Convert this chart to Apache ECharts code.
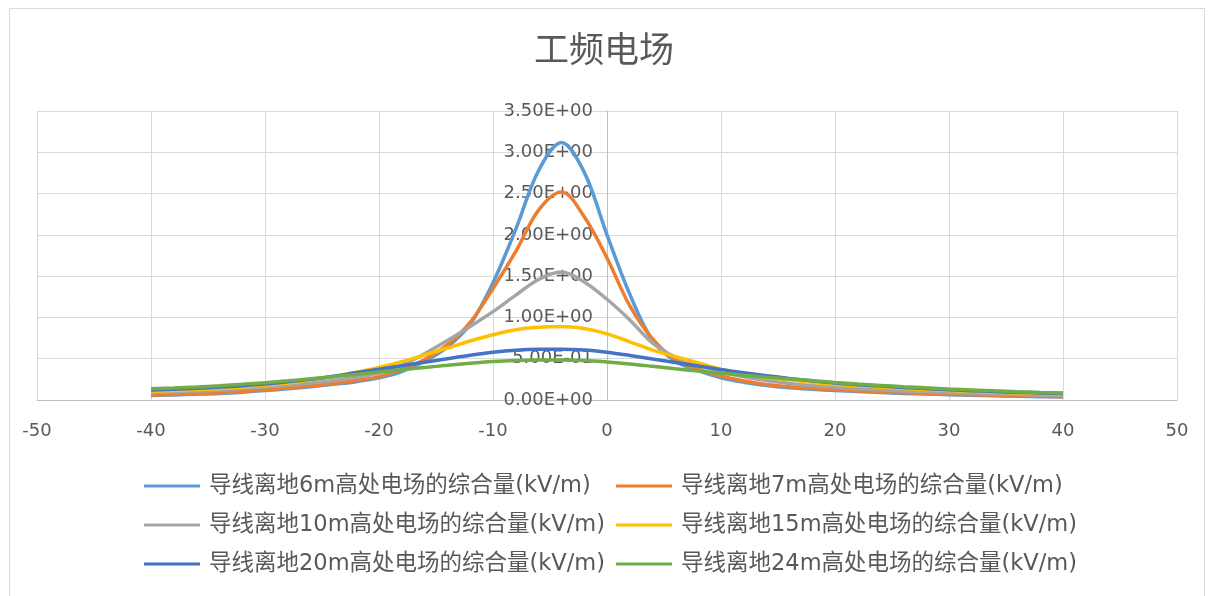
<!DOCTYPE html>
<html>
<head>
<meta charset="utf-8">
<script src="https://cdn.jsdelivr.net/npm/echarts@6/dist/echarts.min.js"></script>
<style>
  html, body { margin: 0; padding: 0; background: #ffffff; }
  #chart { width: 1208px; height: 596px; }
</style>
</head>
<body>
<div id="chart"></div>
<script>
// Horizontal distance from the line centre (m), every 2 m
const distances = [-40, -38, -36, -34, -32, -30, -28, -26, -24, -22, -20, -18, -16, -14, -12, -10, -8, -6, -4, -2,
                   0, 2, 4, 6, 8, 10, 12, 14, 16, 18, 20, 22, 24, 26, 28, 30, 32, 34, 36, 38, 40];

// Combined power-frequency field strength (kV/m) for each conductor height
const field6m  = [0.055, 0.062, 0.07, 0.08, 0.095, 0.115, 0.135, 0.16, 0.19, 0.222, 0.268, 0.345, 0.47, 0.64, 0.92, 1.42, 2.07, 2.78, 3.12, 2.76,
                  2.00, 1.28, 0.72, 0.47, 0.355, 0.27, 0.215, 0.175, 0.148, 0.13, 0.115, 0.102, 0.09, 0.08, 0.072, 0.065, 0.058, 0.052, 0.046, 0.04, 0.035];
const field7m  = [0.06, 0.068, 0.077, 0.088, 0.103, 0.123, 0.145, 0.17, 0.2, 0.237, 0.283, 0.37, 0.49, 0.67, 0.94, 1.35, 1.80, 2.30, 2.52, 2.22,
                  1.72, 1.14, 0.74, 0.49, 0.375, 0.29, 0.23, 0.188, 0.16, 0.14, 0.125, 0.11, 0.098, 0.088, 0.079, 0.071, 0.064, 0.057, 0.05, 0.044, 0.038];
const field10m = [0.09, 0.098, 0.108, 0.12, 0.138, 0.158, 0.18, 0.205, 0.235, 0.275, 0.325, 0.42, 0.56, 0.72, 0.89, 1.07, 1.27, 1.46, 1.55, 1.43,
                  1.22, 0.97, 0.69, 0.52, 0.425, 0.34, 0.28, 0.235, 0.2, 0.175, 0.155, 0.137, 0.123, 0.11, 0.099, 0.09, 0.081, 0.073, 0.066, 0.06, 0.054];
const field15m = [0.105, 0.115, 0.127, 0.14, 0.158, 0.18, 0.205, 0.245, 0.285, 0.335, 0.395, 0.465, 0.545, 0.63, 0.715, 0.79, 0.85, 0.88, 0.89, 0.865,
                  0.80, 0.705, 0.605, 0.525, 0.45, 0.37, 0.315, 0.275, 0.245, 0.215, 0.19, 0.172, 0.155, 0.14, 0.127, 0.115, 0.105, 0.096, 0.088, 0.08, 0.073];
const field20m = [0.12, 0.13, 0.142, 0.156, 0.173, 0.195, 0.22, 0.25, 0.287, 0.33, 0.372, 0.415, 0.458, 0.5, 0.542, 0.578, 0.603, 0.614, 0.615, 0.605,
                  0.578, 0.54, 0.497, 0.455, 0.413, 0.37, 0.33, 0.295, 0.262, 0.232, 0.205, 0.185, 0.168, 0.152, 0.138, 0.125, 0.113, 0.103, 0.094, 0.086, 0.078];
const field24m = [0.135, 0.146, 0.158, 0.172, 0.19, 0.21, 0.232, 0.256, 0.282, 0.31, 0.338, 0.366, 0.394, 0.42, 0.445, 0.465, 0.478, 0.485, 0.485, 0.478,
                  0.46, 0.437, 0.408, 0.378, 0.35, 0.325, 0.3, 0.277, 0.255, 0.234, 0.213, 0.194, 0.177, 0.161, 0.147, 0.134, 0.122, 0.111, 0.101, 0.092, 0.084];

const seriesNames = [
  '导线离地6m高处电场的综合量(kV/m)',
  '导线离地7m高处电场的综合量(kV/m)',
  '导线离地10m高处电场的综合量(kV/m)',
  '导线离地15m高处电场的综合量(kV/m)',
  '导线离地20m高处电场的综合量(kV/m)',
  '导线离地24m高处电场的综合量(kV/m)'
];
const seriesValues = [field6m, field7m, field10m, field15m, field20m, field24m];
const seriesColors = ['#5B9BD5', '#ED7D31', '#A5A5A5', '#FFC000', '#4472C4', '#70AD47'];

// Latin glyphs from DejaVu Sans, Chinese glyphs fall back to Noto Sans CJK
const FONT = '"DejaVu Sans", "Noto Sans CJK SC", sans-serif';
const CJK_FONT = '"Noto Sans CJK SC", sans-serif';
const TEXT = '#595959';

// Plot area edges in pixels
const GRID_LEFT = 37;
const GRID_RIGHT = 31;
const X_MIN = -50;
const X_MAX = 50;

// Scientific notation with a two-digit exponent, e.g. 2.50E+00
function sci(v) {
  const parts = Number(v).toExponential(2).split('e');
  const exp = parseInt(parts[1], 10);
  const sign = exp < 0 ? '-' : '+';
  return parts[0] + 'E' + sign + String(Math.abs(exp)).padStart(2, '0');
}

const series = seriesNames.map((name, i) => ({
  name: name,
  type: 'line',
  smooth: 0.35,
  showSymbol: false,
  symbol: 'none',
  lineStyle: { width: 3.5, color: seriesColors[i] },
  itemStyle: { color: seriesColors[i] },
  data: distances.map((x, j) => [x, seriesValues[i][j]])
}));

const legendCommon = {
  orient: 'vertical',
  icon: 'rect',
  padding: 0,
  itemWidth: 56,
  itemHeight: 3,
  itemGap: 13,
  textStyle: { fontFamily: FONT, fontSize: 22.5, color: TEXT, lineHeight: 26, padding: [0, 0, 0, 4] }
};

const el = document.getElementById('chart');
const chart = echarts.init(el, null, { renderer: 'canvas' });

// The value axis sits at x = 0, so shift it right from the plot's left edge
const plotWidth = 1208 - GRID_LEFT - GRID_RIGHT;
const zeroOffset = plotWidth * (0 - X_MIN) / (X_MAX - X_MIN);

chart.setOption({
  backgroundColor: '#ffffff',
  animation: false,
  title: {
    text: '工频电场',
    left: 'center',
    top: 31,
    padding: 0,
    textStyle: { fontFamily: CJK_FONT, fontSize: 35, fontWeight: 'normal', color: TEXT }
  },
  graphic: [{
    type: 'rect',
    shape: { x: 9.5, y: 8.5, width: 1195, height: 600 },
    style: { fill: 'none', stroke: '#D9D9D9', lineWidth: 1 },
    silent: true
  }],
  legend: [
    Object.assign({}, legendCommon, { left: 144, top: 473, data: [seriesNames[0], seriesNames[2], seriesNames[4]] }),
    Object.assign({}, legendCommon, { left: 616, top: 473, data: [seriesNames[1], seriesNames[3], seriesNames[5]] })
  ],
  grid: { left: GRID_LEFT, right: GRID_RIGHT, top: 111, bottom: 196, containLabel: false, outerBoundsMode: 'none' },
  xAxis: {
    type: 'value',
    min: X_MIN,
    max: X_MAX,
    interval: 10,
    axisLine: { show: true, onZero: false, lineStyle: { color: '#BFBFBF', width: 1 } },
    axisTick: { show: false },
    axisLabel: { fontFamily: FONT, fontSize: 18, color: TEXT, margin: 22 },
    splitLine: { show: true, lineStyle: { color: '#D9D9D9', width: 1 } }
  },
  yAxis: {
    type: 'value',
    min: 0,
    max: 3.5,
    interval: 0.5,
    offset: -zeroOffset,
    axisLine: { show: true, onZero: false, lineStyle: { color: '#BFBFBF', width: 1 } },
    axisTick: { show: false },
    axisLabel: { fontFamily: FONT, fontSize: 18, color: TEXT, margin: 14, formatter: sci },
    splitLine: { show: true, lineStyle: { color: '#D9D9D9', width: 1 } }
  },
  series: series
});
</script>
</body>
</html>
